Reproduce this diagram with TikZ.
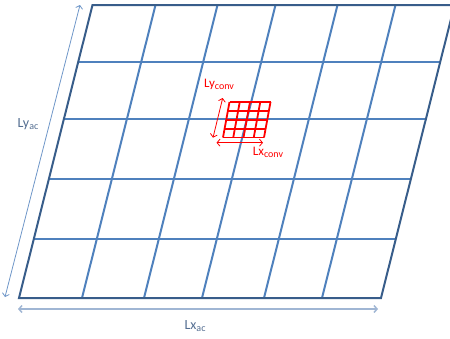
\documentclass[tikz,border=0pt]{standalone}
\usepackage{fontspec}
\setmainfont{Carlito}
\usetikzlibrary{arrows.meta}
\definecolor{gridblue}{RGB}{79,129,189}
\definecolor{edgeblue}{RGB}{56,93,138}
\definecolor{arrowblue}{RGB}{110,150,200}
\definecolor{dimblue}{RGB}{160,182,212}
\definecolor{txtblue}{RGB}{84,110,145}
\tikzset{
  gridline/.style={draw=gridblue, line width=2pt},
  edgeline/.style={draw=edgeblue, line width=2pt, line join=miter},
  redgrid/.style={draw=red, line width=1.8pt},
  dimarrow/.style={{Straight Barb[length=3pt,width=7pt]}-{Straight Barb[length=3pt,width=7pt]}},
  bluelabel/.style={text=txtblue, font=\fontsize{14}{16}\selectfont, inner sep=0pt},
  redlabel/.style={text=red, font=\fontsize{13}{15}\selectfont, inner sep=0pt},
}
\newcommand{\sbs}[1]{\raisebox{-0.35ex}{\fontsize{10}{12}\selectfont #1}}
\begin{document}
\begin{tikzpicture}[x=1pt,y=-1pt]
\useasboundingbox (0,0) rectangle (450,338);
\clip (0,0) rectangle (450,338);
% blue grid
\foreach \yy in {62,119,179,238.5}
  \draw[gridline] ({19+0.25085*(298-\yy)},\yy) -- ({381+0.25085*(298-\yy)},\yy);
\foreach \bx in {82,144,202,264,322}
  \draw[gridline] (\bx,298) -- (\bx+73.5,5);
\draw[edgeline] (19,298) -- (92.5,5) -- (454.5,5) -- (381,298) -- cycle;
% red grid
\foreach \i in {0,...,4}{
  \draw[redgrid] ({229.5-6.5*\i/4},{102+35.5*\i/4}) -- ({270.5-6.5*\i/4},{102+35.5*\i/4});
  \draw[redgrid] ({223+41*\i/4},137.5) -- ({229.5+41*\i/4},102);
}
% dimension arrows
\coordinate (lyA) at (5,297);
\coordinate (lyB) at (80,5);
\draw[dimarrow, draw=arrowblue, line width=0.8pt] (lyA) -- (lyB);
\coordinate (lxA) at (18,309);
\coordinate (lxB) at (378,309);
\draw[dimarrow, draw=dimblue, line width=1.5pt] (lxA) -- (lxB);
\coordinate (rvA) at (213,137.7);
\coordinate (rvB) at (222.7,98);
\draw[dimarrow, draw=red, line width=0.8pt] (rvA) -- (rvB);
\coordinate (rhA) at (216.5,142.7);
\coordinate (rhB) at (263,142.7);
\draw[dimarrow, draw=red, line width=0.8pt] (rhA) -- (rhB);
% labels
\node[bluelabel] (lyac) at (28,124) {Ly\sbs{ac}};
\node[bluelabel] (lxac) at (195,326) {Lx\sbs{ac}};
\node[redlabel] (lyconv) at (219,84) {Ly\sbs{conv}};
\node[redlabel] (lxconv) at (268,152) {Lx\sbs{conv}};
\end{tikzpicture}
\end{document}
